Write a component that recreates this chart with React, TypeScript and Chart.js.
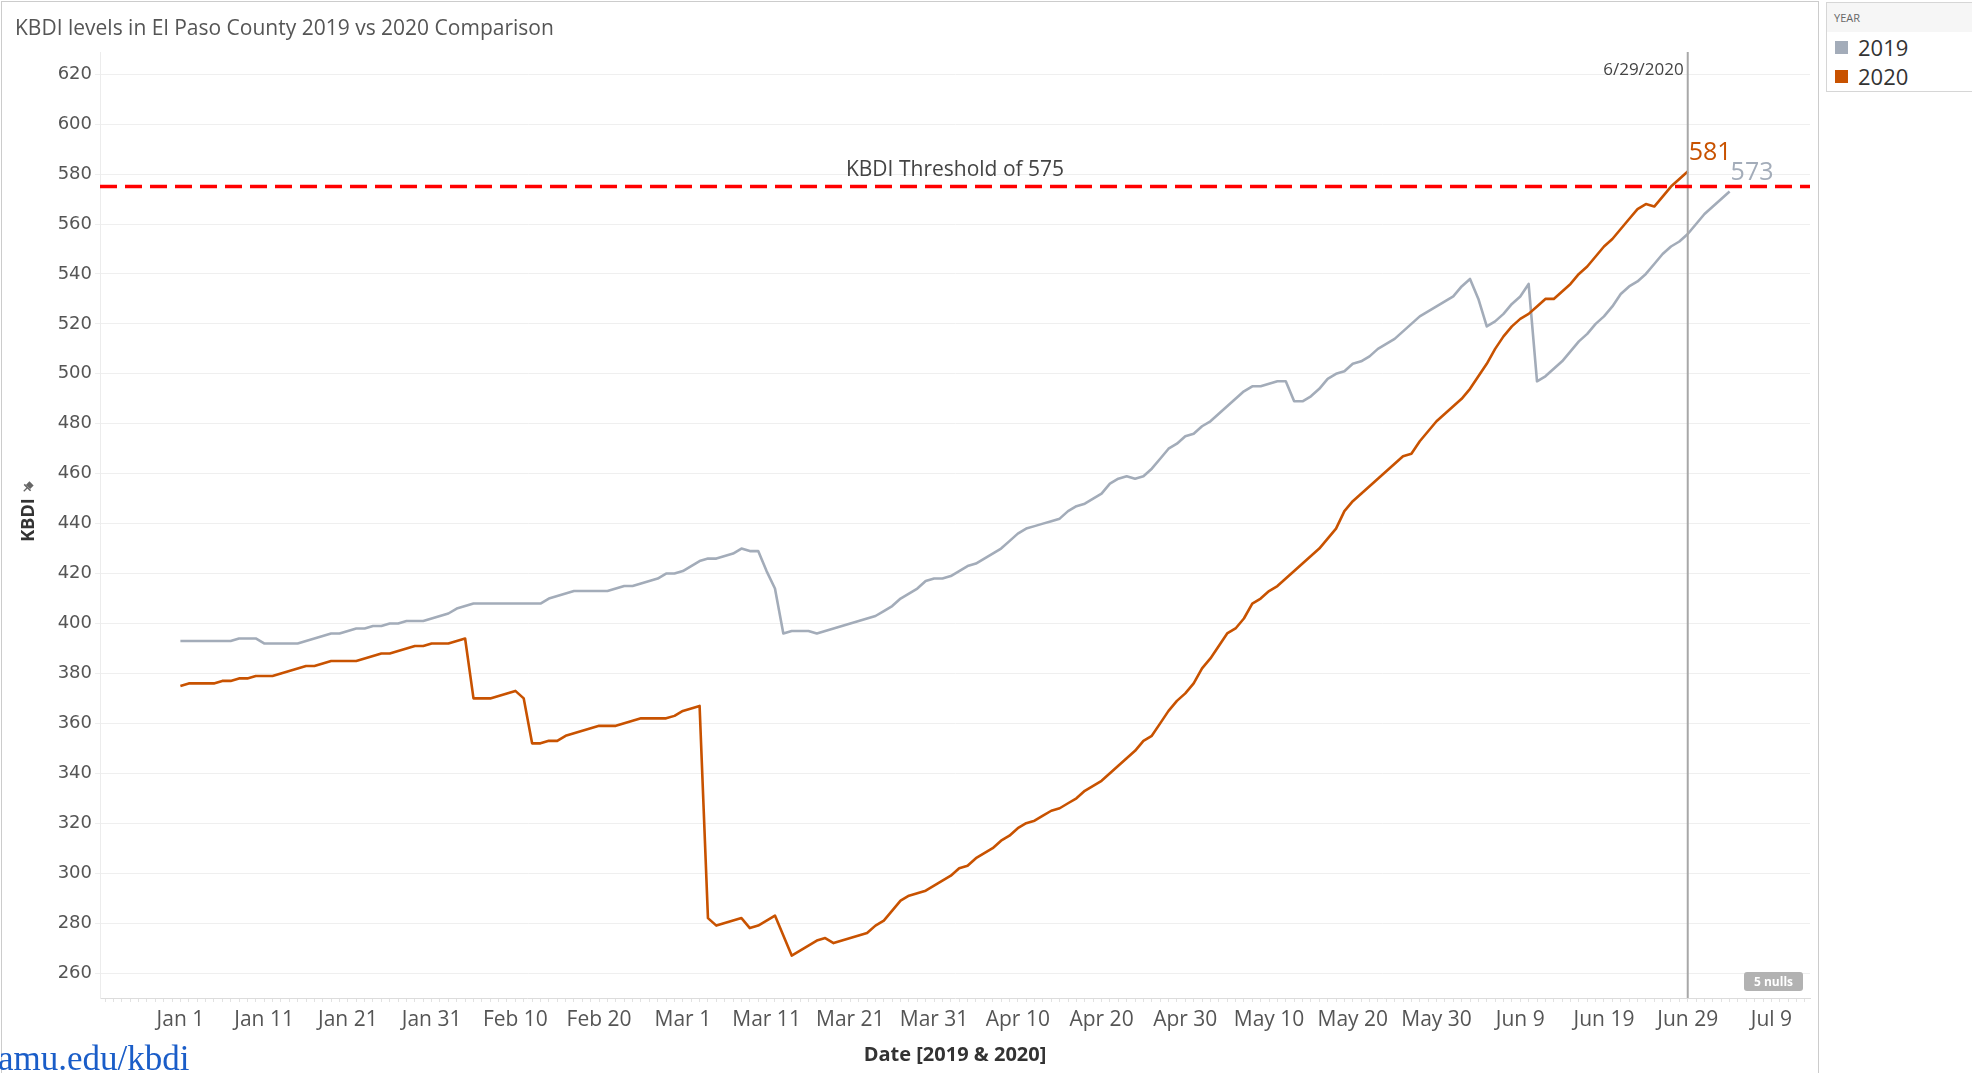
import React, { useEffect, useRef } from "react";
import { Chart, registerables } from "chart.js";

Chart.register(...registerables);

const TITLE = "KBDI levels in El Paso County 2019 vs 2020 Comparison";
const X_AXIS_TITLE = "Date [2019 & 2020]";
const Y_AXIS_TITLE = "KBDI";
const LEGEND_TITLE = "YEAR";
const SERIES_NAMES = ["2019", "2020"];
const SERIES_COLORS = ["#a3acb9", "#c85200"];
const LINK_TEXT = "amu.edu/kbdi";

// One value per day, index 0 = Jan 1
const kbdi2019 = [
  393, 393, 393, 393, 393, 393, 393,
  394, 394, 394,
  392, 392, 392, 392, 392,
  393, 394, 395, 396, 396,
  397, 398, 398, 399, 399,
  400, 400, 401, 401, 401,
  402, 403, 404, 406, 407,
  408, 408, 408, 408, 408,
  408, 408, 408, 408, 410,
  411, 412, 413, 413, 413,
  413, 413, 414, 415, 415,
  416, 417, 418, 420, 420,
  421, 423, 425, 426, 426,
  427, 428, 430, 429, 429,
  421, 414, 396, 397, 397,
  397, 396, 397, 398, 399,
  400, 401, 402, 403, 405,
  407, 410, 412, 414, 417,
  418, 418, 419, 421, 423,
  424, 426, 428, 430, 433,
  436, 438, 439, 440, 441,
  442, 445, 447, 448, 450,
  452, 456, 458, 459, 458,
  459, 462, 466, 470, 472,
  475, 476, 479, 481, 484,
  487, 490, 493, 495, 495,
  496, 497, 497, 489, 489,
  491, 494, 498, 500, 501,
  504, 505, 507, 510, 512,
  514, 517, 520, 523, 525,
  527, 529, 531, 535, 538,
  530, 519, 521, 524, 528,
  531, 536, 497, 499, 502,
  505, 509, 513, 516, 520,
  523, 527, 532, 535, 537,
  540, 544, 548, 551, 553,
  556, 560, 564, 567, 570, 573,
];

const kbdi2020 = [
  375, 376, 376, 376, 376,
  377, 377, 378, 378, 379,
  379, 379, 380, 381, 382,
  383, 383, 384, 385, 385,
  385, 385, 386, 387, 388,
  388, 389, 390, 391, 391,
  392, 392, 392, 393, 394,
  370, 370, 370, 371, 372,
  373, 370, 352, 352, 353,
  353, 355, 356, 357, 358,
  359, 359, 359, 360, 361,
  362, 362, 362, 362, 363,
  365, 366, 367, 282, 279,
  280, 281, 282, 278, 279,
  281, 283, 275, 267, 269,
  271, 273, 274, 272, 273,
  274, 275, 276, 279, 281,
  285, 289, 291, 292, 293,
  295, 297, 299, 302, 303,
  306, 308, 310, 313, 315,
  318, 320, 321, 323, 325,
  326, 328, 330, 333, 335,
  337, 340, 343, 346, 349,
  353, 355, 360, 365, 369,
  372, 376, 382, 386, 391,
  396, 398, 402, 408, 410,
  413, 415, 418, 421, 424,
  427, 430, 434, 438, 445,
  449, 452, 455, 458, 461,
  464, 467, 468, 473, 477,
  481, 484, 487, 490, 494,
  499, 504, 510, 515, 519,
  522, 524, 527, 530, 530,
  533, 536, 540, 543, 547,
  551, 554, 558, 562, 566,
  568, 567, 571, 575, 578,
  581,
];

const xTickDays = [0, 10, 20, 30, 40, 50, 60, 70, 80, 90, 100, 110, 120, 130, 140, 150, 160, 170, 180, 190];
const xTickLabels = [
  "Jan 1", "Jan 11", "Jan 21", "Jan 31", "Feb 10", "Feb 20", "Mar 1", "Mar 11", "Mar 21", "Mar 31",
  "Apr 10", "Apr 20", "Apr 30", "May 10", "May 20", "May 30", "Jun 9", "Jun 19", "Jun 29", "Jul 9",
];
const yTickValues = [260, 280, 300, 320, 340, 360, 380, 400, 420, 440, 460, 480, 500, 520, 540, 560, 580, 600, 620];

const THRESHOLD = 575;
const THRESHOLD_LABEL = "KBDI Threshold of 575";
const REF_DAY = 180;
const REF_LABEL = "6/29/2020";
const NULLS_LABEL = "5 nulls";

const X_MIN = -9.6;
const X_MAX = 194.6;
const Y_MIN = 250;
const Y_MAX = 628.9;

const annotationPlugin = {
  id: "kbdiAnnotations",
  afterDatasetsDraw(chart: any) {
    const { ctx, chartArea, scales } = chart;
    const xs = scales.x;
    const ys = scales.y;
    ctx.save();

    // threshold label
    ctx.font = '21px "Open Sans"';
    ctx.fillStyle = "#444444";
    ctx.textAlign = "center";
    ctx.textBaseline = "alphabetic";
    ctx.fillText(THRESHOLD_LABEL, (chartArea.left + chartArea.right) / 2, ys.getPixelForValue(THRESHOLD) - 11);

    // reference line label
    ctx.font = '17px "Open Sans"';
    ctx.textAlign = "right";
    ctx.fillStyle = "#444444";
    ctx.fillText(REF_LABEL, xs.getPixelForValue(REF_DAY) - 4, chartArea.top + 23);

    // end labels
    [kbdi2019, kbdi2020].forEach((arr, i) => {
      const last = arr.length - 1;
      ctx.font = '25px "Open Sans"';
      ctx.fillStyle = SERIES_COLORS[i];
      ctx.textAlign = "left";
      ctx.fillText(String(arr[last]), xs.getPixelForValue(last) + 1, ys.getPixelForValue(arr[last]) - 12);
    });

    // nulls badge
    const bw = 59;
    const bh = 19;
    const bx = chartArea.right - 66;
    const by = chartArea.bottom - 26;
    ctx.fillStyle = "#b2b2b2";
    ctx.beginPath();
    ctx.roundRect(bx, by, bw, bh, 3);
    ctx.fill();
    ctx.fillStyle = "#ffffff";
    ctx.font = 'bold 12px "Open Sans"';
    ctx.textAlign = "center";
    ctx.textBaseline = "middle";
    ctx.fillText(NULLS_LABEL, bx + bw / 2, by + bh / 2 + 1);

    // y axis title
    const cy = (chartArea.top + chartArea.bottom) / 2 - 5;
    ctx.save();
    ctx.translate(29, cy);
    ctx.rotate(-Math.PI / 2);
    ctx.font = 'bold 18px "Open Sans"';
    ctx.fillStyle = "#333333";
    ctx.textAlign = "center";
    ctx.textBaseline = "middle";
    ctx.fillText(Y_AXIS_TITLE, 0, 0);
    ctx.restore();

    // small pin icon
    ctx.save();
    ctx.translate(28, cy - 33);
    ctx.rotate(Math.PI / 4);
    ctx.fillStyle = "#666666";
    ctx.strokeStyle = "#666666";
    ctx.lineWidth = 1.3;
    ctx.fillRect(-3, -5, 6, 5);
    ctx.fillRect(-4.5, 0, 9, 1.6);
    ctx.beginPath();
    ctx.moveTo(0, 1);
    ctx.lineTo(0, 6);
    ctx.stroke();
    ctx.restore();

    ctx.restore();
  },
};

export default function App() {
  const canvasRef = useRef<HTMLCanvasElement | null>(null);

  useEffect(() => {
    document.body.style.margin = "0";
    document.body.style.overflow = "hidden";
    const canvas = canvasRef.current;
    if (!canvas) return;

    const pts2019 = kbdi2019.map((v, i) => ({ x: i, y: v }));
    const pts2020 = kbdi2020.map((v, i) => ({ x: i, y: v }));

    const chart = new Chart(canvas, {
      type: "line",
      data: {
        datasets: [
          {
            label: "threshold",
            data: [
              { x: X_MIN, y: THRESHOLD },
              { x: X_MAX, y: THRESHOLD },
            ],
            borderColor: "#ff0000",
            borderWidth: 3.5,
            borderDash: [17, 8],
            pointRadius: 0,
            tension: 0,
          },
          {
            label: "ref",
            data: [
              { x: REF_DAY, y: Y_MIN },
              { x: REF_DAY, y: Y_MAX },
            ],
            borderColor: "#a8a8a8",
            borderWidth: 2,
            pointRadius: 0,
            tension: 0,
          },
          {
            label: SERIES_NAMES[1],
            data: pts2020,
            borderColor: SERIES_COLORS[1],
            borderWidth: 2.6,
            pointRadius: 0,
            tension: 0,
            borderJoinStyle: "round",
          },
          {
            label: SERIES_NAMES[0],
            data: pts2019,
            borderColor: SERIES_COLORS[0],
            borderWidth: 2.6,
            pointRadius: 0,
            tension: 0,
            borderJoinStyle: "round",
          },
        ],
      },
      options: {
        animation: false,
        responsive: false,
        devicePixelRatio: 1,
        layout: { padding: { left: 0, top: 52, right: 162, bottom: 0 } },
        plugins: {
          legend: { display: false },
          tooltip: { enabled: false },
          title: { display: false },
        },
        scales: {
          x: {
            type: "linear",
            min: X_MIN,
            max: X_MAX,
            afterBuildTicks: (scale: any) => {
              const ticks = [];
              for (let d = Math.ceil(X_MIN); d <= Math.floor(X_MAX); d++) ticks.push({ value: d });
              scale.ticks = ticks;
            },
            afterFit: (scale: any) => {
              scale.height = 75;
            },
            ticks: {
              autoSkip: false,
              maxRotation: 0,
              minRotation: 0,
              padding: 5,
              color: "#555555",
              font: { family: '"Open Sans"', size: 21 },
              callback: (v: any) => {
                const idx = xTickDays.indexOf(Number(v));
                return idx >= 0 ? xTickLabels[idx] : "";
              },
            },
            grid: {
              drawOnChartArea: false,
              drawTicks: true,
              tickLength: 4,
              color: "#e2e2e2",
            },
            border: { display: true, color: "#dcdcdc", width: 1 },
            title: {
              display: true,
              text: X_AXIS_TITLE,
              color: "#333333",
              font: { family: '"Open Sans"', size: 20, weight: "bold" },
              padding: { top: 0, bottom: 6 },
            },
          },
          y: {
            type: "linear",
            min: Y_MIN,
            max: Y_MAX,
            afterBuildTicks: (scale: any) => {
              scale.ticks = yTickValues.map((v) => ({ value: v }));
            },
            afterFit: (scale: any) => {
              scale.width = 100;
            },
            ticks: {
              padding: 3,
              color: "#555555",
              font: { family: '"DejaVu Sans"', size: 18 },
              callback: (v: any) => String(v),
            },
            grid: {
              color: "#efefef",
              lineWidth: 1,
              drawTicks: true,
              tickLength: 5,
            },
            border: { display: true, color: "#ececec", width: 1 },
          },
        },
      },
      plugins: [annotationPlugin],
    });

    return () => {
      chart.destroy();
    };
  }, []);

  return (
    <div
      style={{
        position: "relative",
        width: 1972,
        height: 1073,
        overflow: "hidden",
        background: "#ffffff",
      }}
    >
      <div
        style={{
          position: "absolute",
          left: 1,
          top: 1,
          width: 1818,
          height: 1120,
          border: "1px solid #cccccc",
          boxSizing: "border-box",
        }}
      />
      <canvas
        ref={canvasRef}
        width={1972}
        height={1073}
        style={{ position: "absolute", left: 0, top: 0, width: 1972, height: 1073 }}
      />
      <div
        style={{
          position: "absolute",
          left: 15,
          top: 13,
          fontFamily: '"Open Sans", sans-serif',
          fontSize: 21,
          lineHeight: "28px",
          color: "#555555",
          whiteSpace: "nowrap",
        }}
      >
        {TITLE}
      </div>
      <div
        style={{
          position: "absolute",
          left: 1826,
          top: 2,
          width: 160,
          height: 90,
          border: "1px solid #d6d6d6",
          boxSizing: "border-box",
          background: "#ffffff",
          fontFamily: '"Open Sans", sans-serif',
        }}
      >
        <div
          style={{
            height: 29,
            background: "#f6f6f6",
            fontSize: 11,
            lineHeight: "29px",
            color: "#666666",
            paddingLeft: 7,
          }}
        >
          {LEGEND_TITLE}
        </div>
        {SERIES_NAMES.map((name, i) => (
          <div
            key={name}
            style={{
              position: "absolute",
              left: 8,
              top: 30 + i * 29,
              height: 29,
              display: "flex",
              alignItems: "center",
            }}
          >
            <span
              style={{
                display: "inline-block",
                width: 13,
                height: 13,
                background: SERIES_COLORS[i],
                marginRight: 10,
              }}
            />
            <span style={{ fontSize: 22, color: "#333333", lineHeight: "29px" }}>{name}</span>
          </div>
        ))}
      </div>
      <div
        style={{
          position: "absolute",
          left: -2,
          top: 1039,
          fontFamily: '"Liberation Serif", "Times New Roman", serif',
          fontSize: 35,
          lineHeight: "40px",
          color: "#1a5dc8",
          whiteSpace: "nowrap",
        }}
      >
        {LINK_TEXT}
      </div>
    </div>
  );
}
